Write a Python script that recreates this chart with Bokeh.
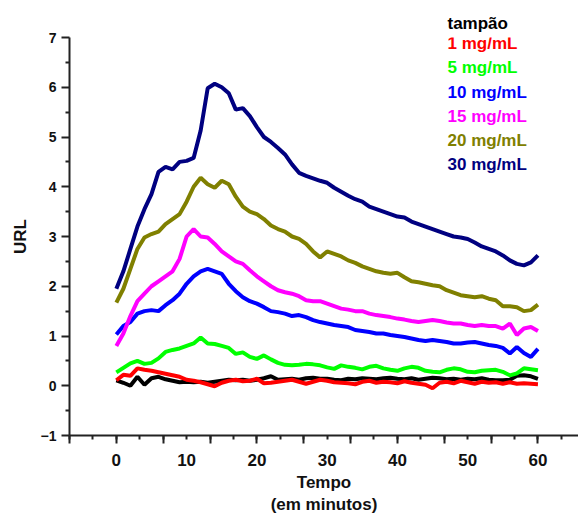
from bokeh.plotting import figure
from bokeh.models import FixedTicker, CustomJSTickFormatter, Label, Title
from bokeh.embed import file_html
from bokeh.resources import INLINE

# ---- data (minutes 0..60, step 1) ----
tempo = list(range(0, 61))

tampao = [0.11, 0.06, 0.0, 0.18, 0.02, 0.15, 0.18, 0.13, 0.1, 0.07,
          0.08, 0.07, 0.08, 0.06, 0.08, 0.1, 0.12, 0.11, 0.12, 0.1,
          0.12, 0.15, 0.19, 0.12, 0.13, 0.14, 0.12, 0.15, 0.16, 0.14,
          0.14, 0.12, 0.11, 0.14, 0.13, 0.15, 0.14, 0.13, 0.15, 0.16,
          0.14, 0.13, 0.15, 0.12, 0.14, 0.16, 0.15, 0.13, 0.14, 0.12,
          0.14, 0.13, 0.15, 0.12, 0.11, 0.11, 0.12, 0.2, 0.21, 0.19, 0.14]

c1 = [0.11, 0.22, 0.2, 0.35, 0.32, 0.3, 0.27, 0.24, 0.21, 0.18,
      0.12, 0.1, 0.07, 0.03, -0.01, 0.06, 0.1, 0.12, 0.09, 0.1,
      0.14, 0.05, 0.06, 0.08, 0.1, 0.12, 0.08, 0.04, 0.08, 0.12,
      0.1, 0.07, 0.06, 0.05, 0.03, 0.08, 0.1, 0.06, 0.08, 0.07,
      0.05, 0.09, 0.06, 0.04, 0.02, -0.05, 0.06, 0.08, 0.05, 0.1,
      0.07, 0.04, 0.08, 0.06, 0.07, 0.04, 0.07, 0.04, 0.05, 0.04, 0.03]

c5 = [0.27, 0.36, 0.45, 0.5, 0.44, 0.46, 0.55, 0.68, 0.72, 0.75,
      0.8, 0.85, 0.97, 0.85, 0.84, 0.8, 0.76, 0.64, 0.67, 0.58,
      0.54, 0.61, 0.53, 0.46, 0.42, 0.41, 0.42, 0.44, 0.43, 0.41,
      0.37, 0.34, 0.41, 0.38, 0.36, 0.33, 0.38, 0.4, 0.35, 0.32,
      0.3, 0.35, 0.38, 0.36, 0.3, 0.28, 0.27, 0.32, 0.35, 0.33,
      0.28, 0.27, 0.3, 0.31, 0.32, 0.28, 0.21, 0.25, 0.35, 0.33, 0.31]

c10 = [1.03, 1.2, 1.28, 1.45, 1.5, 1.52, 1.5, 1.62, 1.72, 1.85,
       2.05, 2.2, 2.3, 2.35, 2.3, 2.25, 2.05, 1.9, 1.78, 1.7,
       1.65, 1.58, 1.5, 1.48, 1.45, 1.4, 1.42, 1.38, 1.32, 1.28,
       1.25, 1.22, 1.2, 1.18, 1.12, 1.1, 1.08, 1.05, 1.05, 1.02,
       1.0, 0.98, 0.95, 0.92, 0.9, 0.92, 0.9, 0.88, 0.85, 0.85,
       0.87, 0.88, 0.85, 0.82, 0.8, 0.76, 0.65, 0.78, 0.66, 0.58, 0.74]

c15 = [0.8, 1.05, 1.4, 1.7, 1.85, 2.0, 2.1, 2.2, 2.3, 2.55,
       3.0, 3.15, 3.0, 2.98, 2.85, 2.7, 2.6, 2.5, 2.45, 2.32,
       2.2, 2.1, 2.0, 1.92, 1.88, 1.85, 1.8, 1.72, 1.7, 1.7,
       1.65, 1.6, 1.55, 1.53, 1.5, 1.5, 1.45, 1.42, 1.4, 1.38,
       1.35, 1.33, 1.3, 1.28, 1.3, 1.32, 1.3, 1.27, 1.25, 1.25,
       1.22, 1.2, 1.22, 1.2, 1.2, 1.15, 1.25, 1.02, 1.15, 1.18, 1.1]

c20 = [1.67, 1.95, 2.35, 2.75, 2.98, 3.05, 3.1, 3.25, 3.35, 3.45,
       3.7, 4.0, 4.18, 4.05, 3.98, 4.12, 4.05, 3.8, 3.6, 3.5,
       3.45, 3.35, 3.22, 3.15, 3.1, 3.0, 2.95, 2.85, 2.7, 2.58,
       2.7, 2.65, 2.6, 2.52, 2.47, 2.4, 2.35, 2.3, 2.27, 2.25,
       2.27, 2.18, 2.1, 2.08, 2.05, 2.02, 2.0, 1.92, 1.87, 1.82,
       1.8, 1.78, 1.8, 1.75, 1.72, 1.6, 1.6, 1.58, 1.5, 1.52, 1.63]

c30 = [1.95, 2.3, 2.75, 3.2, 3.55, 3.85, 4.3, 4.4, 4.35, 4.5,
       4.52, 4.58, 5.13, 5.98, 6.07, 6.0, 5.88, 5.55, 5.58, 5.42,
       5.2, 5.0, 4.9, 4.78, 4.65, 4.45, 4.28, 4.22, 4.17, 4.12,
       4.08, 3.98, 3.9, 3.82, 3.75, 3.7, 3.6, 3.55, 3.5, 3.45,
       3.4, 3.38, 3.3, 3.25, 3.2, 3.15, 3.1, 3.05, 3.0, 2.98,
       2.95, 2.88, 2.8, 2.75, 2.7, 2.62, 2.52, 2.45, 2.42, 2.48, 2.62]

series_names = ["tampão", "1 mg/mL", "5 mg/mL", "10 mg/mL", "15 mg/mL", "20 mg/mL", "30 mg/mL"]
series_values = [tampao, c1, c5, c10, c15, c20, c30]
series_colors = ["#000000", "#FF0000", "#00FF00", "#0000FF", "#FF00FF", "#808000", "#000080"]

x_tick_labels = [0, 10, 20, 30, 40, 50, 60]
y_ticks = [-1, 0, 1, 2, 3, 4, 5, 6, 7]

FONT = "Liberation Sans"

p = figure(width=578, height=525, output_backend="svg", toolbar_location=None,
           x_range=(-20 / 3, 65.77), y_range=(-1, 7),
           min_border_left=69, min_border_right=0, min_border_top=37, min_border_bottom=90)
p.outline_line_color = None
p.xgrid.visible = False
p.ygrid.visible = False
p.background_fill_color = "white"
p.border_fill_color = "white"

for vals, col in zip(series_values, series_colors):
    p.line(tempo, vals, line_color=col, line_width=4)

# x axis: ticks every 10/3 (short), every 20/3 (long), labels at multiples of 10
xt = [(-2 + k) * 10 / 3 for k in range(0, 22)]
xm = [(-1 + k) * 20 / 3 for k in range(0, 11)]
p.xaxis.ticker = FixedTicker(ticks=xt, minor_ticks=xm)
p.xaxis.formatter = CustomJSTickFormatter(code="""
const r = Math.round(tick);
if (Math.abs(tick - r) < 1e-6 && r % 10 == 0) { return r.toString(); }
return "";
""")
p.xaxis.major_tick_out = 4
p.xaxis.major_tick_in = 0
p.xaxis.minor_tick_out = 8
p.xaxis.minor_tick_in = 0
p.xaxis.major_label_standoff = 10
p.xaxis.axis_label = "Tempo\n(em minutos)"
p.xaxis.axis_label_standoff = 4

p.yaxis.ticker = FixedTicker(ticks=y_ticks, minor_ticks=[v + 0.5 for v in y_ticks[:-1]])
p.yaxis.major_tick_out = 8
p.yaxis.major_tick_in = 0
p.yaxis.minor_tick_out = 4
p.yaxis.minor_tick_in = 0
p.yaxis.major_label_standoff = 5
p.yaxis.axis_label = "URL"
p.yaxis.axis_label_standoff = 8

for ax in (p.xaxis, p.yaxis):
    ax.axis_line_width = 2
    ax.axis_line_color = "#222222"
    ax.major_tick_line_width = 2
    ax.minor_tick_line_width = 2
    ax.major_tick_line_color = "#222222"
    ax.minor_tick_line_color = "#222222"
    ax.major_label_text_font = FONT
    ax.major_label_text_font_style = "bold"
    ax.major_label_text_color = "#111111"
    ax.axis_label_text_font = FONT
    ax.axis_label_text_font_style = "bold"
    ax.axis_label_text_font_size = "17px"
    ax.axis_label_text_color = "#111111"

p.xaxis.major_label_text_font_size = "17px"
p.yaxis.major_label_text_font_size = "14px"

# legend as coloured text (screen units are relative to the plot frame: origin at its bottom-left)
FRAME_LEFT, FRAME_BOTTOM = 69, 435
for i, (name, col) in enumerate(zip(series_names, series_colors)):
    if i == 0:
        # first entry sits above the plot frame: put it in the top side panel
        p.add_layout(Title(text=name, align="left", offset=447 - FRAME_LEFT, standoff=10,
                           text_color=col, text_font=FONT, text_font_style="bold",
                           text_font_size="17px"), "above")
        continue
    p.add_layout(Label(x=447 - FRAME_LEFT, y=FRAME_BOTTOM - (19 + 24.2 * i),
                       x_units="screen", y_units="screen",
                       text=name, text_color=col, text_font=FONT, text_font_style="bold",
                       text_font_size="17px", text_baseline="middle", text_align="left"))

open("out.html", "w").write(file_html(p, INLINE))
